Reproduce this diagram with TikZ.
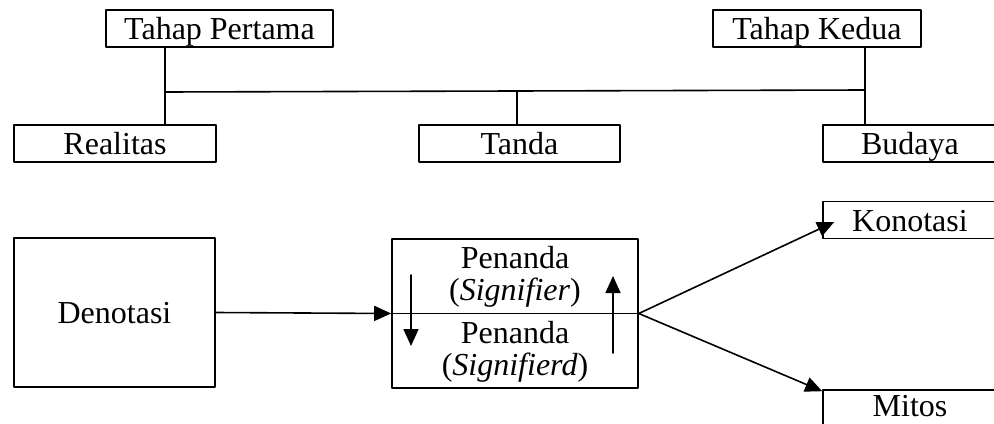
\documentclass[tikz,border=0pt]{standalone}
\usepackage{fontspec}
\setmainfont{Liberation Serif}
\usetikzlibrary{arrows.meta}

\begin{document}
\begin{tikzpicture}[line cap=round,line join=round,>={Triangle[length=8.5pt,width=7.5pt]},x=0.5pt,y=-0.5pt,
  box/.style={draw,line width=0.8pt,inner sep=0pt,minimum height=18.5pt,text height=11pt,text depth=0pt,font=\fontsize{16}{16}\selectfont},
  teks/.style={align=center,inner sep=0pt,font=\fontsize{16}{16}\selectfont}]
\useasboundingbox (0,0) rectangle (994,423);
\clip (0,0) rectangle (994,423);
% baris atas
\node[box,minimum width=113.5pt] (tp) at (219.5,28.5) {Tahap Pertama};
\node[box,minimum width=104pt] (tk) at (817,28.5) {Tahap Kedua};
\node[box,minimum width=101pt] (real) at (115,143.5) {Realitas};
\node[box,minimum width=100.5pt] (tanda) at (519.5,143.5) {Tanda};
\node[box,minimum width=87pt] (budaya) at (910,143.5) {Budaya};
\coordinate (jl) at (165,92);
\coordinate (jt) at (517,91);
\coordinate (jr) at (865,90);
\draw [line width=0.8pt] (tp.south -| jl)-- (real.north -| jl);
\draw [line width=0.8pt] (tk.south -| jr)-- (budaya.north -| jr);
\draw [line width=0.8pt] (jl)-- (jr);
\draw [line width=0.8pt] (jt)-- (tanda.north -| jt);
% baris bawah
\node[box,minimum width=100.5pt,minimum height=74.5pt] (deno) at (114.5,312.5) {Denotasi};
\node[box,minimum width=123pt,minimum height=74.5pt] (pen) at (515,313.5) {};
\draw [line width=0.8pt] (pen.west)-- (pen.east);
\node[teks] (penatas) at (515,277) {Penanda\\(\textit{Signifier})};
\node[teks] (penbawah) at (515,352) {Penanda\\(\textit{Signifierd})};
\node[box,minimum width=87pt] (kon) at (910,220) {Konotasi};
\node[box,minimum width=87pt,text height=8pt] (mitos) at (910,408.5) {Mitos};
\coordinate (turun1) at (411,275);
\coordinate (turun2) at (411,346);
\coordinate (naik1) at (613,353);
\coordinate (naik2) at (613,276);
\draw [->,line width=0.8pt] (deno.east)-- (pen.west);
\draw [->,line width=0.8pt] (turun1)-- (turun2);
\draw [->,line width=0.8pt] (naik1)-- (naik2);
\draw [->,line width=0.8pt] (pen.east)-- ([xshift=6pt,yshift=-1pt]kon.west);
\draw [->,line width=0.8pt] (pen.east)-- ([yshift=-1pt]mitos.north west);
\end{tikzpicture}
\end{document}
